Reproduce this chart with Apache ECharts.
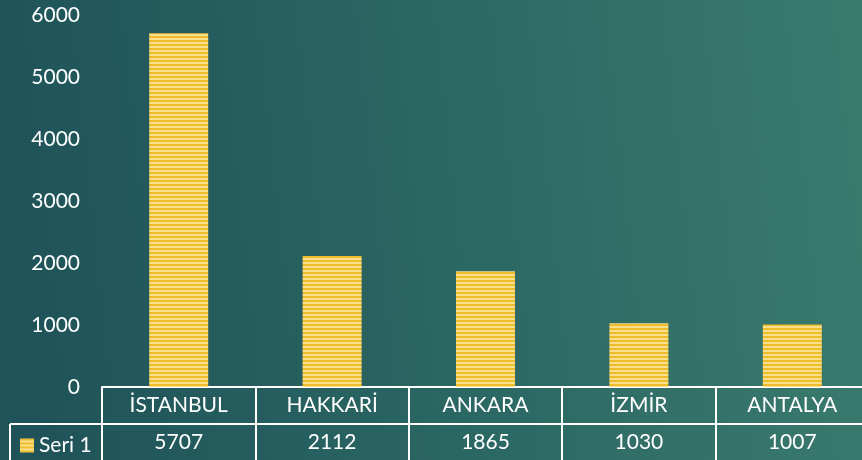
<!DOCTYPE html>
<html>
<head>
<meta charset="utf-8">
<script src="https://cdn.jsdelivr.net/npm/echarts@6/dist/echarts.min.js"></script>
<style>
  html, body { margin: 0; padding: 0; }
  #chart { width: 862px; height: 460px; }
</style>
</head>
<body>
<div id="chart"></div>
<script>
// şehirler ve değerler
var cities = ['İSTANBUL', 'HAKKARİ', 'ANKARA', 'İZMİR', 'ANTALYA'];
var seri1 = [5707, 2112, 1865, 1030, 1007];
var yTicks = [0, 1000, 2000, 3000, 4000, 5000, 6000];

var FONT = 'Lato';
var FS = 21;

// çizgili sarı dolgu
var pat = document.createElement('canvas');
pat.width = 4; pat.height = 4;
var pctx = pat.getContext('2d');
pctx.fillStyle = '#efbd2c';
pctx.fillRect(0, 0, 4, 2);
pctx.fillStyle = '#f8e08f';
pctx.fillRect(0, 2, 4, 2);

var chart = echarts.init(document.getElementById('chart'));
chart.setOption({
  animation: false,
  backgroundColor: {
    type: 'linear', x: 0, y: 0.2, x2: 1, y2: 0,
    colorStops: [
      { offset: 0, color: '#1f5359' },
      { offset: 0.5, color: '#2b6763' },
      { offset: 1, color: '#3b7b6e' }
    ]
  },
  grid: { left: 102, width: 767, top: 15, height: 372, outerBoundsMode: 'none' },
  legend: {
    left: 15, top: 430,
    itemWidth: 14, itemHeight: 14, itemGap: 4,
    icon: 'rect',
    textStyle: { color: '#ffffff', fontSize: FS, fontFamily: FONT },
    data: ['Seri 1']
  },
  xAxis: [
    {
      type: 'category',
      data: cities,
      position: 'bottom',
      axisLine: { show: true, lineStyle: { color: '#ffffff', width: 2 } },
      axisTick: { show: true, length: 73, lineStyle: { color: '#ffffff', width: 2 } },
      axisLabel: { color: '#ffffff', fontSize: FS, fontFamily: FONT, margin: 8 }
    },
    {
      type: 'category',
      data: cities,
      position: 'bottom',
      offset: 37,
      axisLine: { show: true, lineStyle: { color: '#ffffff', width: 2 } },
      axisTick: { show: false },
      axisLabel: {
        color: '#ffffff', fontSize: FS, fontFamily: FONT, margin: 8,
        formatter: function (v, i) { return String(seri1[i]); }
      }
    }
  ],
  yAxis: {
    type: 'value',
    min: yTicks[0],
    max: yTicks[yTicks.length - 1],
    interval: 1000,
    axisLine: { show: false },
    axisTick: { show: false },
    splitLine: { show: false },
    axisLabel: {
      color: '#ffffff', fontSize: FS, fontFamily: FONT, margin: 22,
      formatter: function (v) { return String(v); }
    }
  },
  graphic: [
    { type: 'line', shape: { x1: 10, y1: 424, x2: 102, y2: 424 }, style: { stroke: '#ffffff', lineWidth: 2 } },
    { type: 'line', shape: { x1: 10, y1: 424, x2: 10, y2: 460 }, style: { stroke: '#ffffff', lineWidth: 2 } }
  ],
  series: [{
    name: 'Seri 1',
    type: 'bar',
    data: seri1,
    barWidth: 59,
    itemStyle: { color: { image: pat, repeat: 'repeat' } }
  }]
});
</script>
</body>
</html>
